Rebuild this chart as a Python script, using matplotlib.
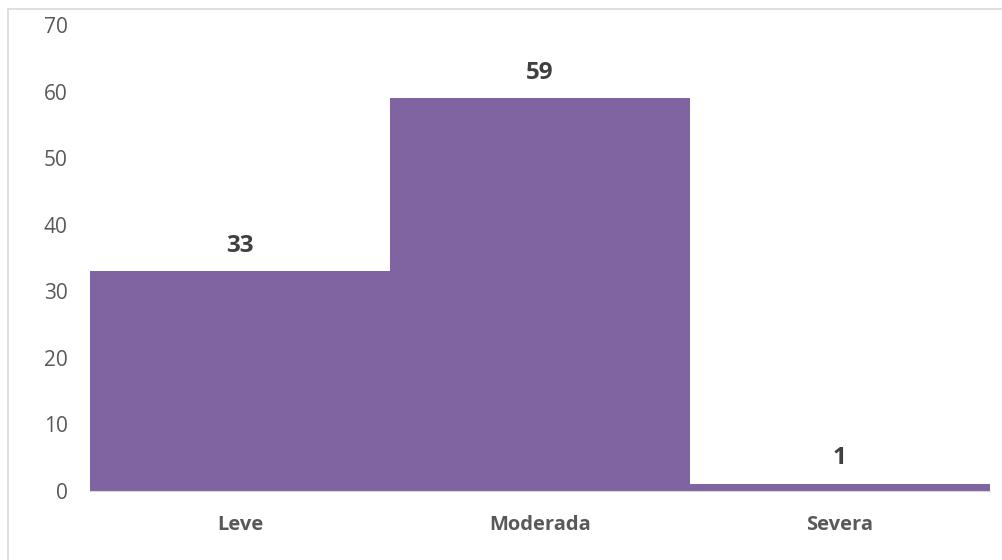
import matplotlib.pyplot as plt
from matplotlib.patches import Rectangle

categorias = ["Leve", "Moderada", "Severa"]
valores = [33, 59, 1]

plt.rcParams['font.family'] = ['Open Sans', 'DejaVu Sans']

fig = plt.figure(figsize=(10.02, 5.6), dpi=100)
ax = fig.add_axes([0.0898, 0.1232, 0.898, 0.8318])

x = range(len(categorias))
ax.bar(x, valores, width=1.0, color='#8064A2', zorder=2)

for xi, v in zip(x, valores):
    ax.annotate(str(v), (xi, v), xytext=(0, 10), textcoords='offset points',
                ha='center', va='bottom', fontsize=17.5, fontweight='bold',
                color='#404040')

ax.set_xlim(-0.5, 2.5)
ax.set_ylim(0, 70)
ax.set_yticks(range(0, 71, 10))
ax.set_xticks(list(x))
ax.set_xticklabels(categorias, fontweight='bold')
ax.tick_params(axis='y', length=0, labelsize=15, labelcolor='#595959', pad=16)
ax.tick_params(axis='x', length=0, labelsize=14.5, labelcolor='#595959', pad=17)

for s in ['top', 'right', 'left']:
    ax.spines[s].set_visible(False)
ax.spines['bottom'].set_color('#d9d9d9')

# marco del grafico
fig.patches.append(Rectangle((8 / 1002, -0.1), 1.2, 1.1 - 9 / 560,
                             transform=fig.transFigure, fill=False,
                             edgecolor='#d9d9d9', linewidth=1.2))

fig.savefig('out.png', dpi=100)
